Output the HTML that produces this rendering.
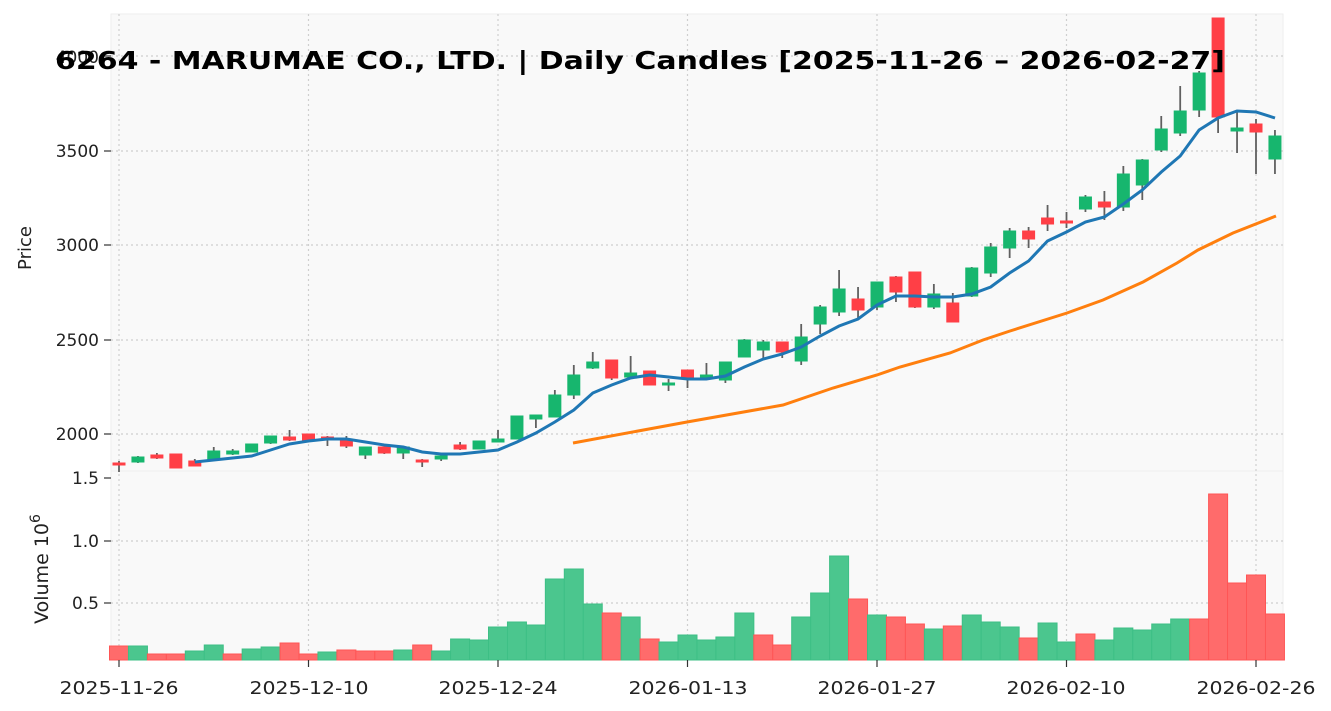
<!DOCTYPE html>
<html><head><meta charset="utf-8"><style>
html,body{margin:0;padding:0;background:#fff;}
svg{display:block;font-family:"DejaVu Sans","Liberation Sans",sans-serif;}
</style></head><body>
<svg id="s" width="1331" height="711" viewBox="0 0 1331 711" xmlns="http://www.w3.org/2000/svg">
<rect x="0" y="0" width="1331" height="711" fill="#fff"/>
<rect x="111" y="14" width="1172" height="457" fill="#f9f9f9" stroke="#eeeeee" stroke-width="1"/>
<rect x="111" y="471" width="1172" height="189" fill="#f9f9f9" stroke="#eeeeee" stroke-width="1"/>
<g id="grid" stroke="#cfcfcf" stroke-width="1.2" stroke-dasharray="2,3"></g>
<g id="vol"></g>
<g id="cand"></g>
<polyline id="ma1" fill="none" stroke="#1f77b4" stroke-width="3"/>
<polyline id="ma2" fill="none" stroke="#ff7f0e" stroke-width="3" points="573,443 687,422 783,405 833,388 877,375 900,367 950,353 983,340 1010,331 1067,313 1103,300 1143,282 1177,263 1198,250 1233,233 1276,216"/>
<g id="ticks" stroke="#333" stroke-width="1.2"></g>
<g font-size="17" fill="#222" text-anchor="end">
<text x="99" y="440">2000</text>
<text x="99" y="346">2500</text>
<text x="99" y="251">3000</text>
<text x="99" y="157">3500</text>
<text x="99" y="63">4000</text>
<text x="99" y="484">1.5</text>
<text x="99" y="547">1.0</text>
<text x="99" y="609">0.5</text>
</g>
<g font-size="17.5" fill="#222" text-anchor="middle">
<text x="119" y="694" textLength="119" lengthAdjust="spacingAndGlyphs">2025-11-26</text>
<text x="309" y="694" textLength="119" lengthAdjust="spacingAndGlyphs">2025-12-10</text>
<text x="498" y="694" textLength="119" lengthAdjust="spacingAndGlyphs">2025-12-24</text>
<text x="688" y="694" textLength="119" lengthAdjust="spacingAndGlyphs">2026-01-13</text>
<text x="877" y="694" textLength="119" lengthAdjust="spacingAndGlyphs">2026-01-27</text>
<text x="1066" y="694" textLength="119" lengthAdjust="spacingAndGlyphs">2026-02-10</text>
<text x="1256" y="694" textLength="119" lengthAdjust="spacingAndGlyphs">2026-02-26</text>
</g>
<text x="0" y="0" font-size="18" fill="#222" text-anchor="middle" transform="translate(31,248) rotate(-90)">Price</text>
<text x="0" y="0" font-size="19" fill="#222" text-anchor="middle" transform="translate(48,569) rotate(-90)">Volume  10<tspan dy="-8" font-size="14">6</tspan></text>
<text x="640" y="69" font-size="25" font-weight="bold" fill="#000" text-anchor="middle" textLength="1170" lengthAdjust="spacingAndGlyphs">6264 - MARUMAE CO., LTD. | Daily Candles [2025-11-26 – 2026-02-27]</text>
</svg>
<script>
var NS="http://www.w3.org/2000/svg";
function el(p,t,a){var e=document.createElementNS(NS,t);for(var k in a)e.setAttribute(k,a[k]);document.getElementById(p).appendChild(e);return e;}
var X=function(i){return 119+18.95*i;};
var C=[
['r',463,465,461,472],['g',457,462,456,463],['r',455,458,453,459],['r',454,468,454,468],['r',461,466,459,466],
['g',451,459,447,459],['g',451,454,449,455],['g',444,452,444,452],['g',436,443,436,444],['r',437,440,430,441],
['r',434,440,434,441],['r',437,440,436,446],['r',441,446,436,448],['g',447,455,447,459],['r',447,453,447,454],
['g',447,453,446,459],['r',460,462,459,467],['g',456,459,455,461],['r',445,449,442,450],['g',441,449,441,449],
['g',439,442,430,442],['g',416,439,416,439],['g',415,419,415,428],['g',395,417,390,417],['g',375,395,365,399],
['g',362,368,352,369],['r',360,378,360,380],['g',373,377,356,378],['r',371,385,371,385],['g',383,385,379,391],
['r',370,378,370,388],['g',375,378,363,379],['g',362,380,362,383],['g',340,357,339,357],['g',342,350,340,359],
['r',342,352,342,358],['g',337,361,324,365],['g',307,324,305,334],['g',289,312,270,316],['r',299,310,287,319],
['g',282,307,282,310],['r',277,292,276,302],['r',272,307,272,308],['g',294,307,284,309],['r',303,322,293,322],
['g',268,296,267,297],['g',247,273,243,277],['g',231,248,228,258],['r',231,239,227,248],['r',218,224,205,231],
['r',221,223,212,228],['g',197,209,195,212],['r',202,207,191,220],['g',174,207,166,211],['g',160,185,159,200],
['g',129,150,116,152],['g',111,133,86,136],['g',73,110,71,117],['r',18,117,18,133],['g',128,131,111,153],
['r',124,132,119,174],['g',136,159,130,174]];
var VT=[646,646,654,654,651,645,654,649,647,643,654,652,650,651,651,650,645,651,639,640,627,622,625,579,569,604,613,617,639,642,635,640,637,613,635,645,617,593,556,599,615,617,624,629,626,615,622,627,638,623,642,634,640,628,630,624,619,619,494,583,575,614];
var VC="RGRRGGRGGRRGRRRGRGGGGGGGGGRGRGGGGGRRGGGRGRRGRGGGRGGRGGGGGRRRR";
[56,151,245,340,434,541,603].forEach(function(y){el('grid','line',{x1:111,x2:1283,y1:y,y2:y});});
[0,10,20,30,40,50,60].forEach(function(i){var x=X(i);el('grid','line',{x1:x,x2:x,y1:14,y2:660});
el('ticks','line',{x1:x,x2:x,y1:660,y2:667});});
[56,151,245,340,434,478,541,603].forEach(function(y){el('ticks','line',{x1:104,x2:111,y1:y,y2:y});});
for(var i=0;i<62;i++){var x=X(i);
 var g=VC[i]=='G';
 el('vol','rect',{x:x-9.5,y:VT[i],width:19,height:660-VT[i],fill:g?'#4bc68e':'#ff6b6b',stroke:g?'#3dbf85':'#ff5555','stroke-width':1});
 var c=C[i],col=c[0]=='g'?'#17b66e':'#ff3f46';
 el('cand','line',{x1:x,x2:x,y1:c[3],y2:c[4],stroke:'#606060','stroke-width':1.8});
 el('cand','rect',{x:x-6,y:c[1],width:12,height:Math.max(2,c[2]-c[1]),fill:col,stroke:col,'stroke-width':1});
}
var M=[462,460,458,456,450,444,441,439,439,442,445,447,452,454,454,452,450,442,433,422,410,393,385,378,375,377,379,379,376,367,359,354,347,336,326,319,305,296,296,297,297,294,287,273,261,241,232,222,217,204,190,172,156,130,118,111,112,118];
var pts=M.map(function(y,k){return X(k+4).toFixed(1)+','+y;}).join(' ');
document.getElementById('ma1').setAttribute('points',pts);
</script>
</body></html>
